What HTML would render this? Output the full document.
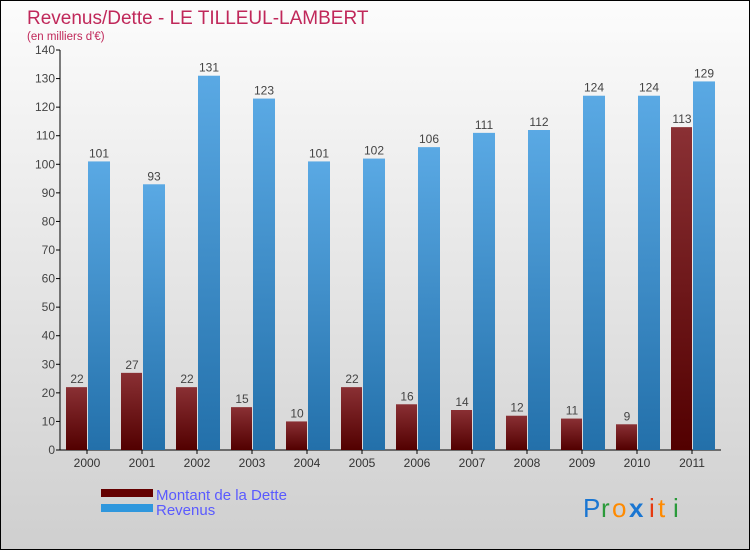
<!DOCTYPE html>
<html><head><meta charset="utf-8"><style>
body{margin:0}
#c{position:relative;width:748px;height:548px;border:1px solid #000;background:linear-gradient(#fcfcfc,#cfcfcf);font-family:"Liberation Sans",sans-serif;overflow:hidden}
svg text{font-family:"Liberation Sans",sans-serif}
</style></head><body>
<div id="c">
<svg id="s" width="748" height="548">
<defs>
<linearGradient id="gd" x1="0" y1="0" x2="0" y2="1"><stop offset="0" stop-color="#8a3034"/><stop offset="1" stop-color="#520000"/></linearGradient>
<linearGradient id="gr" x1="0" y1="0" x2="0" y2="1"><stop offset="0" stop-color="#5aa9e4"/><stop offset="1" stop-color="#2370aa"/></linearGradient>
</defs>
<text x="26" y="23" font-size="19" fill="#c0285a">Revenus/Dette - LE TILLEUL-LAMBERT</text>
<text x="26" y="39" font-size="11.5" fill="#c0285a">(en milliers d'€)</text>
<g id="g"></g>
<rect x="100" y="488" width="52" height="8" fill="#640000"/>
<rect x="100" y="503" width="52" height="8" fill="#2f97dd"/>
<text x="155" y="499" font-size="15" fill="#5a5aff">Montant de la Dette</text>
<text x="155" y="514" font-size="15" fill="#5a5aff">Revenus</text>
<g font-size="26">
<text x="582" y="516" fill="#1a76d2">P</text><text x="600" y="516" fill="#2a9a3a">r</text><text x="611" y="516" fill="#ff8a00">o</text><text x="628" y="516" fill="#1a76d2" font-weight="bold">x</text><text x="648" y="516" fill="#e63a10">i</text><text x="657" y="516" fill="#ff8a00">t</text><text x="672" y="516" fill="#2a9a3a">i</text>
</g>
</svg>
<script>
const years=["2000","2001","2002","2003","2004","2005","2006","2007","2008","2009","2010","2011"];
const dette=[22,27,22,15,10,22,16,14,12,11,9,113];
const revenus=[101,93,131,123,101,102,106,111,112,124,124,129];
const ticks=[0,10,20,30,40,50,60,70,80,90,100,110,120,130,140];
const NS="http://www.w3.org/2000/svg";
const g=document.getElementById('g');
const y=v=>449-v*400/140;
const x=i=>86+i*55;
function mk(t,a,p){const e=document.createElementNS(NS,t);for(const k in a)e.setAttribute(k,a[k]);(p||g).appendChild(e);return e;}
mk('line',{x1:59,y1:49,x2:59,y2:449,stroke:'#000'});
mk('line',{x1:59,y1:449,x2:720,y2:449,stroke:'#000'});
ticks.forEach(t=>{
 const l=mk('line',{x1:55,y1:y(t),x2:59,y2:y(t),stroke:'#000'});
 
 
 const e=mk('text',{x:54,y:y(t)+4,'font-size':12,fill:'#444','text-anchor':'end'});e.textContent=t;
 
 
});
years.forEach((yr,i)=>{
 const cx=x(i);
 mk('line',{x1:cx,y1:449,x2:cx,y2:453,stroke:'#000'});
 const t=mk('text',{x:cx,y:466,'font-size':12,fill:'#333','text-anchor':'middle'});t.textContent=yr;
 
 
 const b1=mk('rect',{x:cx-21,y:y(dette[i]),width:21,height:449-y(dette[i]),fill:'url(#gd)'});
 
 
 const b2=mk('rect',{x:cx+1,y:y(revenus[i]),width:22,height:449-y(revenus[i]),fill:'url(#gr)'});
 
 
 const l1=mk('text',{x:cx-10,y:y(dette[i])-4,'font-size':12,fill:'#444','text-anchor':'middle'});l1.textContent=dette[i];
 
 
 const l2=mk('text',{x:cx+12,y:y(revenus[i])-4,'font-size':12,fill:'#444','text-anchor':'middle'});l2.textContent=revenus[i];
 
 
});
</script>
</div>
</body></html>
